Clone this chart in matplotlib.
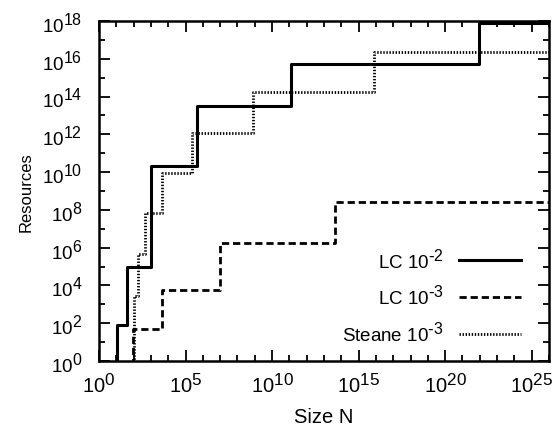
import numpy as np
import matplotlib
matplotlib.use("Agg")
import matplotlib.pyplot as plt
import matplotlib._mathtext as mt
from matplotlib.ticker import LogLocator, NullFormatter

plt.rcParams['font.family'] = ['Liberation Sans', 'DejaVu Sans']
plt.rcParams['mathtext.default'] = 'regular'
mt.SHRINK_FACTOR = 0.85  # exponents in the original are nearly full size

# step thresholds (size N) and resources reached at each threshold
lc2_N = [10**1.06, 10**1.60, 10**3.0, 10**5.68, 10**11.08, 10**21.98]
lc2_R = [81, 9e4, 2.1e10, 3.2e13, 5e15, 8.1e17]

lc3_N = [10**1.98, 10**3.62, 10**7.0, 10**13.64]
lc3_R = [48, 5.8e3, 1.7e6, 2.6e8]

steane_N = [10**2.03, 10**2.23, 10**2.66, 10**3.62, 10**5.36, 10**8.88, 10**15.9]
steane_R = [2.8e3, 4.5e5, 7.2e7, 9.3e9, 1.2e12, 1.7e14, 2.4e16]

labels = [r"LC $10^{\text{-}2}$", r"LC $10^{\text{-}3}$", r"Steane $10^{\text{-}3}$"]
x_ticks = [1e0, 1e5, 1e10, 1e15, 1e20, 1e25]
y_ticks = [10.0**k for k in range(0, 19, 2)]
x_max = 1e26


def steps(N, R):
    x = np.r_[N[0], N, x_max]
    y = np.r_[1e-2, R, R[-1]]
    return x, y


fig = plt.figure(figsize=(5.58, 4.27), dpi=100)
ax = fig.add_axes([99 / 558, 1 - 362 / 427, 450 / 558, 340 / 427])

x, y = steps(lc2_N, lc2_R)
ax.step(x, y, where='post', color='k', lw=2.2, label=labels[0])
x, y = steps(lc3_N, lc3_R)
ax.step(x, y, where='post', color='k', lw=2.0, dashes=(2.6, 1.4), label=labels[1])
x, y = steps(steane_N, steane_R)
ax.step(x, y, where='post', color='k', lw=2.0, dashes=(0.5, 0.6), label=labels[2])

ax.set_xscale('log'); ax.set_yscale('log')
ax.set_xticks(x_ticks); ax.set_yticks(y_ticks)
ax.set_xlim(1, x_max); ax.set_ylim(1, 1e18)
ax.xaxis.set_minor_locator(LogLocator(base=10, subs=(1.0,), numticks=40))
ax.xaxis.set_minor_formatter(NullFormatter())
ax.yaxis.set_minor_locator(LogLocator(base=10, subs=(1.0,), numticks=40))
ax.yaxis.set_minor_formatter(NullFormatter())
ax.tick_params(which='both', direction='in', top=True, right=True, width=1.3)
ax.tick_params(which='major', length=8)
ax.tick_params(which='minor', length=4)
ax.tick_params(axis='x', labelsize=14.5, pad=8)
ax.tick_params(axis='y', labelsize=13.5, pad=12)
for s in ax.spines.values():
    s.set_linewidth(1.8)

ax.set_xlabel("Size N", fontsize=14.5, labelpad=8)
ax.set_ylabel("Resources", fontsize=12, labelpad=6)

ax.legend(loc='lower right', bbox_to_anchor=(0.975, 0.0), frameon=False, markerfirst=False,
          fontsize=13.5, handlelength=3.3, labelspacing=0.68, handletextpad=0.8)

fig.savefig("out.png", dpi=100)
